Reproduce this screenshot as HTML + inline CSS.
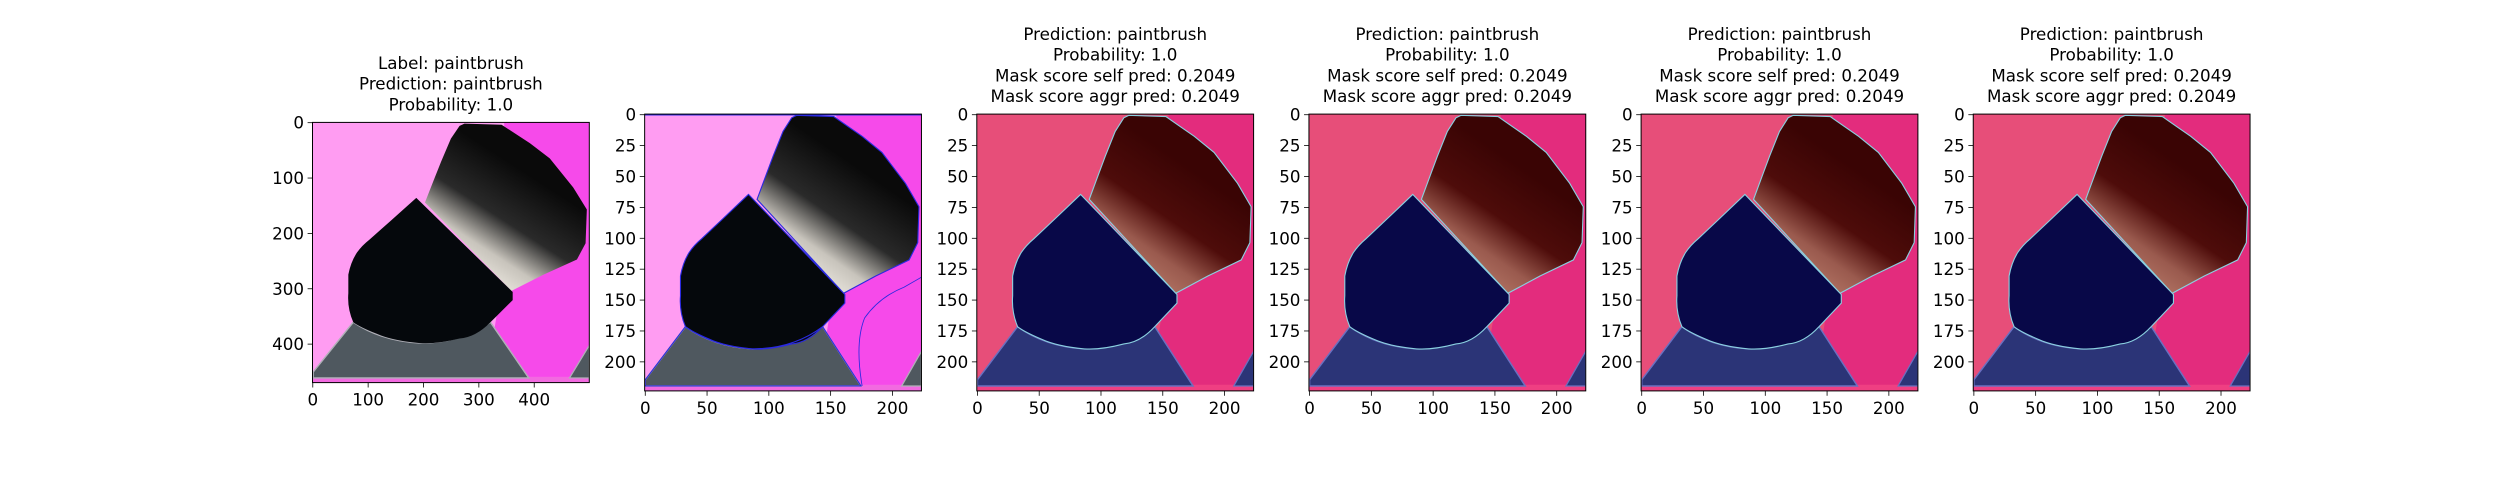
<!DOCTYPE html>
<html><head><meta charset="utf-8">
<style>
html,body{margin:0;padding:0;background:#fff;}
svg{display:block;font-family:"DejaVu Sans","Liberation Sans",sans-serif;}
</style></head>
<body>
<svg id="fig" width="2500" height="500" viewBox="0 0 2500 500" xmlns="http://www.w3.org/2000/svg">
<defs>
<linearGradient id="brA" gradientUnits="userSpaceOnUse" x1="175" y1="45" x2="120" y2="125">
<stop offset="0" stop-color="#0a0a0a"/><stop offset="0.45" stop-color="#2a2a2a"/><stop offset="0.75" stop-color="#c8c4bc"/><stop offset="1" stop-color="#ece8e0"/></linearGradient>
<linearGradient id="brB" gradientUnits="userSpaceOnUse" x1="175" y1="45" x2="120" y2="125">
<stop offset="0" stop-color="#3a0404"/><stop offset="0.45" stop-color="#4e0c0a"/><stop offset="0.75" stop-color="#9a5a4e"/><stop offset="1" stop-color="#b27464"/></linearGradient>
</defs>
</svg>
<script>
// ---- data ----
const panelTitles = [
  ["Label: paintbrush","Prediction: paintbrush","Probability: 1.0"],
  [],
  ["Prediction: paintbrush","Probability: 1.0","Mask score self pred: 0.2049","Mask score aggr pred: 0.2049"],
  ["Prediction: paintbrush","Probability: 1.0","Mask score self pred: 0.2049","Mask score aggr pred: 0.2049"],
  ["Prediction: paintbrush","Probability: 1.0","Mask score self pred: 0.2049","Mask score aggr pred: 0.2049"],
  ["Prediction: paintbrush","Probability: 1.0","Mask score self pred: 0.2049","Mask score aggr pred: 0.2049"]
];
const imgWidths = [500,224,224,224,224,224];
const imgHeights = [470,224,224,224,224,224];
const xTicks0 = [0,100,200,300,400];
const yTicks0 = [0,100,200,300,400];
const xTicksN = [0,50,100,150,200];
const yTicksN = [0,25,50,75,100,125,150,175,200];

const NS = "http://www.w3.org/2000/svg";
const svg = document.getElementById('fig');
function mk(tag, attrs, parent){const e=document.createElementNS(NS,tag);for(const k in attrs)e.setAttribute(k,attrs[k]);(parent||svg).appendChild(e);return e;}

const FS = 16.7;
const bristle="M91,69 L98,50 L104,34 L112,14 L119,3 L123,1 L153,2 L176,18 L192,31 L211,56 L222,75 L221,104 L214,118 L187,131 L161,145 Z";
const ferrule="M84,65 L162,146 L162,153 L144,172 Q132,185 119,186 Q100,191 87,190 Q65,188 52,182 Q38,176 33,172 Q28,160 29,147 L29,131 Q31,120 36,112 Q40,106 46,101 L63,85 Z";
const stand="M33,172 L0.5,215 L0.5,220 L175,220 L144,172 Q120,190 87,190 Q55,188 33,172 Z";
const corner="M208,220 L224,192 L224,220 Z";
const rightBg="M155,0 L224,0 L224,224 L140,224 L150,160 L165,140 Z";

const slotW = 276.8, gap = 55.35, left0 = 312.5, midY = 252.5;
const styles = [
 {bgL:"#ff9cf2",bgR:"#f64aea",br:"url(#brA)",fe:"#05080c",st:"#4f585f",stE:"#b0b0b8",strip:"#f26ae0",ol:null},
 {bgL:"#ff9cf2",bgR:"#f64aea",br:"url(#brA)",fe:"#05080c",st:"#4f585f",stE:"#b0b0b8",strip:"#f26ae0",ol:"#2a2ae0"},
 {bgL:"#e74e79",bgR:"#e32c7d",br:"url(#brB)",fe:"#080848",st:"#2b3477",stE:"#6a70c0",strip:"#ef3f82",ol:"#8ad0e0"},
 {bgL:"#e74e79",bgR:"#e32c7d",br:"url(#brB)",fe:"#080848",st:"#2b3477",stE:"#6a70c0",strip:"#ef3f82",ol:"#8ad0e0"},
 {bgL:"#e74e79",bgR:"#e32c7d",br:"url(#brB)",fe:"#080848",st:"#2b3477",stE:"#6a70c0",strip:"#ef3f82",ol:"#8ad0e0"},
 {bgL:"#e74e79",bgR:"#e32c7d",br:"url(#brB)",fe:"#080848",st:"#2b3477",stE:"#6a70c0",strip:"#ef3f82",ol:"#8ad0e0"}
];

for(let i=0;i<6;i++){
  const W=imgWidths[i], H=imgHeights[i];
  const w=slotW, h=slotW*H/W;
  const x0=left0+i*(slotW+gap), y0=midY-h/2;
  const sy=v=>y0+(v+0.5)*h/H;
  const g=mk('g',{});
  
  
  const cp=mk('clipPath',{id:'cp'+i},g);
  mk('rect',{x:x0,y:y0,width:w,height:h},cp);
  const img=mk('g',{'clip-path':'url(#cp'+i+')'},g);
  
  
  const s=styles[i];
  mk('rect',{x:x0,y:y0,width:w,height:h,fill:s.bgL},img);
  const inner=mk('g',{transform:`translate(${x0},${y0}) scale(${w/224},${h/224})`},img);
  mk('path',{d:rightBg,fill:s.bgR},inner);
  mk('rect',{x:0,y:219,width:224,height:6,fill:s.strip},inner);
  const olW = s.ol ? 0.9 : 0;
  const ol = s.ol||"none";
  mk('path',{d:stand,fill:s.st,stroke:s.stE,'stroke-width':1.2},inner);
  mk('path',{d:corner,fill:s.st,stroke:s.stE,'stroke-width':1},inner);
  mk('path',{d:bristle,fill:s.br,stroke:ol,'stroke-width':olW},inner);
  mk('path',{d:ferrule,fill:s.fe,stroke:ol,'stroke-width':olW},inner);
  if(i===1){
    mk('path',{d:"M176,220 Q170,185 178,165 Q190,148 210,140 L224,132",fill:"none",stroke:"#2a2ae0",'stroke-width':0.7},inner);
    mk('line',{x1:0,y1:0.5,x2:224,y2:0.5,stroke:"#2a2ae0",'stroke-width':1.2},inner);
    mk('path',{d:stand,fill:"none",stroke:"#2a2ae0",'stroke-width':0.9},inner);
  }
  const fr=mk('rect',{x:x0,y:y0,width:w,height:h,fill:'none',stroke:'#000','stroke-width':1},g);
  
  
  const xt = i===0?xTicks0:xTicksN, yt = i===0?yTicks0:yTicksN;
  xt.forEach(v=>{
    const X=x0+(v+0.5)*w/W;
    mk('line',{x1:X,y1:y0+h,x2:X,y2:y0+h+4.9,stroke:'#000','stroke-width':0.8},g);
    const t=mk('text',{x:X,y:y0+h+23,'text-anchor':'middle','font-size':FS,fill:'#000'},g);
    t.textContent=v;
    
    
  });
  yt.forEach(v=>{
    const Y=sy(v);
    mk('line',{x1:x0-4.9,y1:Y,x2:x0,y2:Y,stroke:'#000','stroke-width':0.8},g);
    const t=mk('text',{x:x0-8.5,y:Y+6,'text-anchor':'end','font-size':FS,fill:'#000'},g);
    t.textContent=v;
    
    
  });
  const lines=panelTitles[i];
  lines.forEach((ln,k)=>{
    const t=mk('text',{x:x0+w/2,y:y0-12-(lines.length-1-k)*20.7,'text-anchor':'middle','font-size':FS,fill:'#000'},g);
    t.textContent=ln;
    
    
  });
}
</script>
</body></html>
